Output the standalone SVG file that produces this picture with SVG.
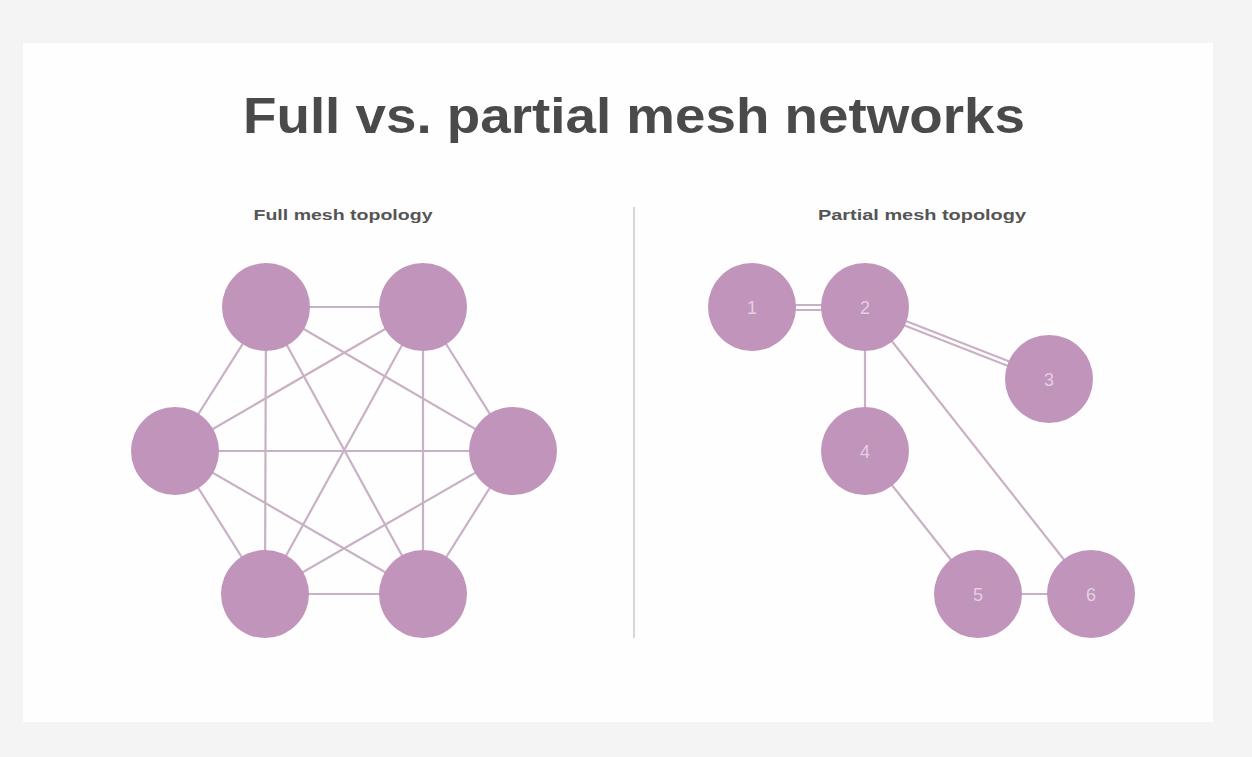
<svg xmlns="http://www.w3.org/2000/svg" width="1252" height="757" viewBox="0 0 1252 757">
<style>
.node{fill:#c194bc;}
.edge{stroke:#c9b1c5;stroke-width:2.2;fill:none;}
.lbl{font-family:"Liberation Sans",Arial,sans-serif;font-size:18px;fill:#e3d0e0;text-anchor:middle;}
.sub{font-family:"Liberation Sans",Arial,sans-serif;font-size:15px;font-weight:bold;fill:#555;text-anchor:middle;}
</style>
<rect x="0" y="0" width="1252" height="757" fill="#f4f4f4"/>
<rect x="23" y="43" width="1190" height="679" fill="#fefefe"/>
<text x="634" y="133" font-family="'Liberation Sans',Arial,sans-serif" font-size="50" font-weight="bold" fill="#4a4a4a" text-anchor="middle" textLength="782" lengthAdjust="spacingAndGlyphs">Full vs. partial mesh networks</text>
<text class="sub" x="343" y="220" textLength="179" lengthAdjust="spacingAndGlyphs">Full mesh topology</text>
<text class="sub" x="922" y="220" textLength="208" lengthAdjust="spacingAndGlyphs">Partial mesh topology</text>
<line x1="634" y1="207" x2="634" y2="638" stroke="#ddd3dc" stroke-width="2"/>
<g id="connectors">
<line class="edge" x1="266" y1="307" x2="423" y2="307"/>
<line class="edge" x1="266" y1="307" x2="175" y2="451"/>
<line class="edge" x1="266" y1="307" x2="513" y2="451"/>
<line class="edge" x1="266" y1="307" x2="265" y2="594"/>
<line class="edge" x1="266" y1="307" x2="423" y2="594"/>
<line class="edge" x1="423" y1="307" x2="175" y2="451"/>
<line class="edge" x1="423" y1="307" x2="513" y2="451"/>
<line class="edge" x1="423" y1="307" x2="265" y2="594"/>
<line class="edge" x1="423" y1="307" x2="423" y2="594"/>
<line class="edge" x1="175" y1="451" x2="513" y2="451"/>
<line class="edge" x1="175" y1="451" x2="265" y2="594"/>
<line class="edge" x1="175" y1="451" x2="423" y2="594"/>
<line class="edge" x1="513" y1="451" x2="265" y2="594"/>
<line class="edge" x1="513" y1="451" x2="423" y2="594"/>
<line class="edge" x1="265" y1="594" x2="423" y2="594"/>
<line class="edge" x1="752" y1="305" x2="865" y2="305"/>
<line class="edge" x1="752" y1="310" x2="865" y2="310"/>
<line class="edge" x1="865" y1="305" x2="1049" y2="377"/>
<line class="edge" x1="865" y1="310" x2="1049" y2="382"/>
<line class="edge" x1="865" y1="307" x2="865" y2="451" stroke-width="3"/>
<line class="edge" x1="865" y1="307" x2="1091" y2="594"/>
<line class="edge" x1="865" y1="451" x2="978" y2="594"/>
<line class="edge" x1="978" y1="594" x2="1091" y2="594"/>
</g>
<g id="full-1"><circle class="node" cx="266" cy="307" r="44"/></g>
<g id="full-2"><circle class="node" cx="423" cy="307" r="44"/></g>
<g id="full-3"><circle class="node" cx="175" cy="451" r="44"/></g>
<g id="full-4"><circle class="node" cx="513" cy="451" r="44"/></g>
<g id="full-5"><circle class="node" cx="265" cy="594" r="44"/></g>
<g id="full-6"><circle class="node" cx="423" cy="594" r="44"/></g>
<g id="p1"><circle class="node" cx="752" cy="307" r="44"/><text class="lbl" x="752" y="314">1</text></g>
<g id="p2"><circle class="node" cx="865" cy="307" r="44"/><text class="lbl" x="865" y="314">2</text></g>
<g id="p3"><circle class="node" cx="1049" cy="379" r="44"/><text class="lbl" x="1049" y="386">3</text></g>
<g id="p4"><circle class="node" cx="865" cy="451" r="44"/><text class="lbl" x="865" y="458">4</text></g>
<g id="p5"><circle class="node" cx="978" cy="594" r="44"/><text class="lbl" x="978" y="601">5</text></g>
<g id="p6"><circle class="node" cx="1091" cy="594" r="44"/><text class="lbl" x="1091" y="601">6</text></g>
</svg>
